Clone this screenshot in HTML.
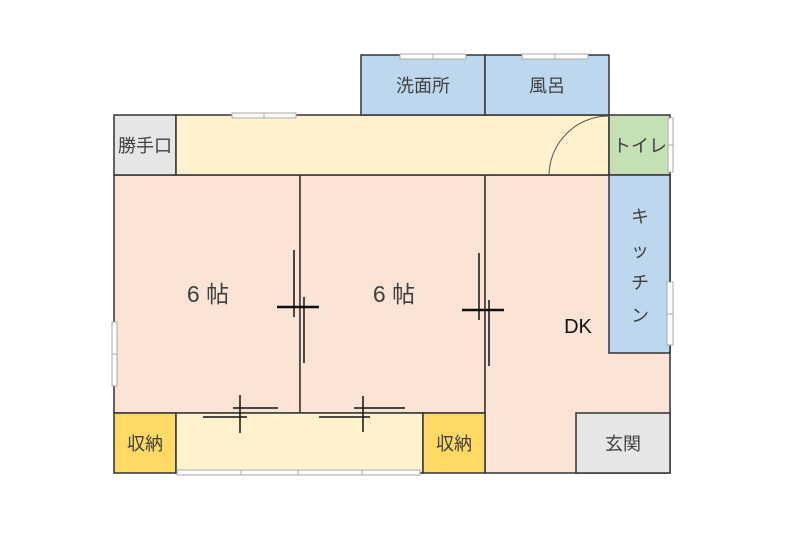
<!DOCTYPE html>
<html><head><meta charset="utf-8"><style>html,body{margin:0;padding:0;background:#fff}svg{display:block}</style></head>
<body>
<svg width="800" height="540" viewBox="0 0 800 540" xmlns="http://www.w3.org/2000/svg" font-family="Liberation Sans, Noto Sans CJK JP, sans-serif">
<g stroke="#333" stroke-width="1.5">
<rect x="114" y="175" width="186" height="238" fill="#fbe3d6"/>
<rect x="300" y="175" width="185" height="238" fill="#fbe3d6"/>
<path d="M485 175 H670 V473 H485 Z" fill="#fbe3d6"/>
<rect x="114" y="115" width="62" height="60" fill="#e7e6e6"/>
<rect x="176" y="115" width="433" height="60" fill="#fff2cc"/>
<rect x="361" y="55" width="124" height="60" fill="#bdd7ee"/>
<rect x="485" y="55" width="124" height="60" fill="#bdd7ee"/>
<rect x="609" y="115" width="61" height="60" fill="#c5e0b4"/>
<rect x="609" y="175" width="61" height="178" fill="#bdd7ee"/>
<rect x="576" y="413" width="94" height="60" fill="#e7e6e6"/>
<rect x="114" y="413" width="62" height="60" fill="#ffd966"/>
<rect x="176" y="413" width="247" height="60" fill="#fff2cc"/>
<rect x="423" y="413" width="62" height="60" fill="#ffd966"/>
</g>
<path d="M609 116 A60 60 0 0 0 549 175" fill="none" stroke="#555" stroke-width="1"/>
<g fill="#fff" stroke="#aaa" stroke-width="1">
<rect x="232" y="113" width="32" height="5"/><rect x="264" y="113" width="32" height="5"/>
<rect x="400" y="54" width="33" height="5"/><rect x="433" y="54" width="33" height="5"/>
<rect x="522" y="54" width="33" height="5"/><rect x="555" y="54" width="33" height="5"/>
<rect x="668" y="118" width="5" height="27"/><rect x="668" y="145" width="5" height="27"/>
<rect x="667" y="282" width="6" height="32"/><rect x="667" y="314" width="6" height="31"/>
<rect x="112" y="322" width="5" height="32"/><rect x="112" y="354" width="5" height="32"/>
<rect x="177" y="470" width="64" height="5"/><rect x="241" y="470" width="57" height="5"/><rect x="298" y="470" width="64" height="5"/><rect x="362" y="470" width="58" height="5"/>
</g>
<g stroke="#111">
<line x1="294" y1="250" x2="294" y2="317" stroke-width="1.5"/>
<line x1="277" y1="307" x2="319" y2="307" stroke-width="2.5"/>
<line x1="304" y1="297" x2="304" y2="363" stroke-width="1.5"/>
<line x1="479" y1="253" x2="479" y2="320" stroke-width="1.5"/>
<line x1="462" y1="310" x2="504" y2="310" stroke-width="2.5"/>
<line x1="489" y1="300" x2="489" y2="366" stroke-width="1.5"/>
<line x1="233" y1="408" x2="278" y2="408" stroke-width="1.5"/>
<line x1="203" y1="417" x2="247" y2="417" stroke-width="1.5"/>
<line x1="240" y1="395" x2="240" y2="433" stroke-width="1.5"/>
<line x1="354" y1="408" x2="405" y2="408" stroke-width="1.5"/>
<line x1="319" y1="417" x2="370" y2="417" stroke-width="1.5"/>
<line x1="363" y1="396" x2="363" y2="432" stroke-width="1.5"/>
</g>
<g fill="#404040" font-size="18" text-anchor="middle">
<text x="145" y="152">勝手口</text>
<text x="423" y="92">洗面所</text>
<text x="547" y="92">風呂</text>
<text x="640" y="152">トイレ</text>
<text x="145" y="450">収納</text>
<text x="454" y="450">収納</text>
<text x="623" y="450">玄関</text>
<text x="640" y="223">キ</text>
<text x="640" y="257">ッ</text>
<text x="640" y="289">チ</text>
<text x="640" y="322">ン</text>
<text x="208" y="302" font-size="23">6 帖</text>
<text x="394" y="302" font-size="23">6 帖</text>
<text x="578" y="333" font-size="20" fill="#111">DK</text>
</g>
</svg>
</body></html>
